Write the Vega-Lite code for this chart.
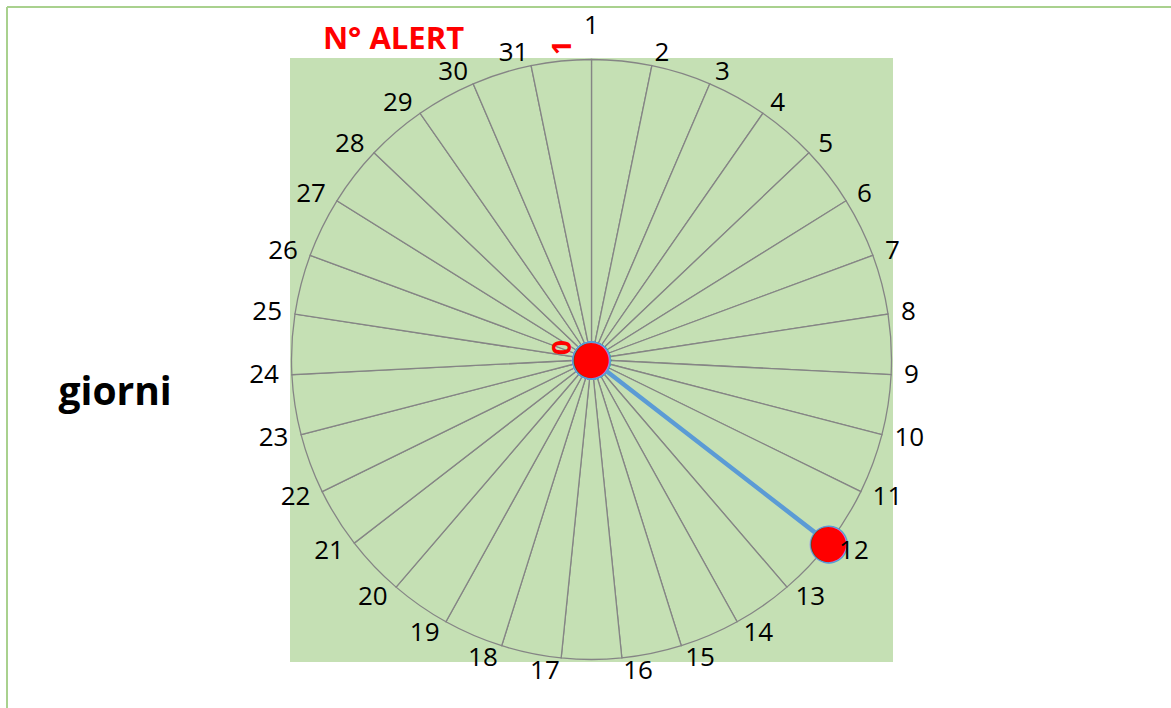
{
  "$schema": "https://vega.github.io/schema/vega-lite/v6.json",
  "width": 1164,
  "height": 701,
  "autosize": {"type": "none"},
  "padding": {"left": 7, "top": 7, "right": 0, "bottom": 0},
  "background": "white",
  "config": {"view": {"stroke": null}},
  "datasets": {
    "days": [
      {"day": 1, "alert": 0}, {"day": 2, "alert": 0}, {"day": 3, "alert": 0}, {"day": 4, "alert": 0},
      {"day": 5, "alert": 0}, {"day": 6, "alert": 0}, {"day": 7, "alert": 0}, {"day": 8, "alert": 0},
      {"day": 9, "alert": 0}, {"day": 10, "alert": 0}, {"day": 11, "alert": 0}, {"day": 12, "alert": 1},
      {"day": 13, "alert": 0}, {"day": 14, "alert": 0}, {"day": 15, "alert": 0}, {"day": 16, "alert": 0},
      {"day": 17, "alert": 0}, {"day": 18, "alert": 0}, {"day": 19, "alert": 0}, {"day": 20, "alert": 0},
      {"day": 21, "alert": 0}, {"day": 22, "alert": 0}, {"day": 23, "alert": 0}, {"day": 24, "alert": 0},
      {"day": 25, "alert": 0}, {"day": 26, "alert": 0}, {"day": 27, "alert": 0}, {"day": 28, "alert": 0},
      {"day": 29, "alert": 0}, {"day": 30, "alert": 0}, {"day": 31, "alert": 0}
    ],
    "one": [{"label": "x"}],
    "ticks": [{"t": "0", "v": 0}, {"t": "1", "v": 1}]
  },
  "data": {"name": "days"},
  "layer": [
    {
      "data": {"name": "one"},
      "mark": {"type": "rule", "color": "#A9D18E", "strokeWidth": 2},
      "encoding": {"x": {"datum": -1.94833, "type": "quantitative", "scale": {"domain": [-1.94833, 1.93167], "nice": false, "zero": false}, "axis": null}}
    },
    {
      "data": {"name": "one"},
      "mark": {"type": "rule", "color": "#A9D18E", "strokeWidth": 2},
      "encoding": {"y": {"datum": 1.175, "type": "quantitative", "scale": {"domain": [-1.16167, 1.175], "nice": false, "zero": false}, "axis": null}}
    },
    {
      "data": {"name": "one"},
      "mark": {"type": "rect", "fill": "#C5E0B4"},
      "encoding": {
        "x": {"datum": -1.005, "type": "quantitative", "scale": {"domain": [-1.94833, 1.93167], "nice": false, "zero": false}, "axis": null},
        "x2": {"datum": 1.005},
        "y": {"datum": 1.005, "type": "quantitative", "scale": {"domain": [-1.16167, 1.175], "nice": false, "zero": false}, "axis": null},
        "y2": {"datum": -1.0083}
      }
    },
    {
      "mark": {"type": "arc", "fill": "#C5E0B4", "stroke": "#858585", "strokeWidth": 1.3},
      "encoding": {
        "x": {"datum": 0, "type": "quantitative", "scale": {"domain": [-1.94833, 1.93167], "nice": false, "zero": false}, "axis": null},
        "y": {"datum": 0, "type": "quantitative", "scale": {"domain": [-1.16167, 1.175], "nice": false, "zero": false}, "axis": null},
        "theta": {"aggregate": "count", "type": "quantitative", "stack": true},
        "order": {"field": "day", "type": "quantitative", "sort": "ascending"},
        "detail": {"field": "day", "type": "quantitative"},
        "radius": {"datum": 1, "type": "quantitative", "scale": {"type": "linear", "domain": [0, 1], "range": [0, 300], "zero": true}}
      }
    },
    {
      "transform": [{"filter": "datum.alert > 0"}],
      "mark": {"type": "arc", "fillOpacity": 0, "stroke": "#5B9BD5", "strokeWidth": 4.5, "strokeCap": "round", "strokeJoin": "round"},
      "encoding": {
        "x": {"datum": 0, "type": "quantitative", "scale": {"domain": [-1.94833, 1.93167], "nice": false, "zero": false}, "axis": null},
        "y": {"datum": 0, "type": "quantitative", "scale": {"domain": [-1.16167, 1.175], "nice": false, "zero": false}, "axis": null},
        "theta": {"field": "day", "type": "quantitative", "stack": false, "scale": {"domain": [1, 32], "range": [0, 6.283185307]}},
        "theta2": {"field": "day"},
        "radius": {"field": "alert", "type": "quantitative", "scale": {"type": "linear", "domain": [0, 1], "range": [0, 300], "zero": true}}
      }
    },
    {
      "mark": {"type": "text", "text": "●", "font": "DejaVu Sans", "fontSize": 48, "color": "#FF0000", "stroke": "#5B9BD5", "strokeWidth": 1.5, "align": "center", "baseline": "middle"},
      "encoding": {
        "x": {"datum": 0, "type": "quantitative", "scale": {"domain": [-1.94833, 1.93167], "nice": false, "zero": false}, "axis": null},
        "y": {"datum": 0, "type": "quantitative", "scale": {"domain": [-1.16167, 1.175], "nice": false, "zero": false}, "axis": null},
        "theta": {"field": "day", "type": "quantitative", "stack": false, "scale": {"domain": [1, 32], "range": [0, 6.283185307]}},
        "radius": {"field": "alert", "type": "quantitative", "scale": {"type": "linear", "domain": [0, 1], "range": [0, 300], "zero": true}}
      }
    },
    {
      "transform": [{"filter": "datum.day == 1"}],
      "mark": {"type": "text", "font": "Open Sans", "fontSize": 26, "color": "#000000", "align": "center", "baseline": "middle", "radiusOffset": 33},
      "encoding": {
        "x": {"datum": 0, "type": "quantitative", "scale": {"domain": [-1.94833, 1.93167], "nice": false, "zero": false}, "axis": null},
        "y": {"datum": 0, "type": "quantitative", "scale": {"domain": [-1.16167, 1.175], "nice": false, "zero": false}, "axis": null},
        "theta": {"field": "day", "type": "quantitative", "stack": false, "scale": {"domain": [1, 32], "range": [0, 6.283185307]}},
        "radius": {"datum": 1, "type": "quantitative", "scale": {"type": "linear", "domain": [0, 1], "range": [0, 300], "zero": true}},
        "text": {"field": "day", "type": "nominal"}
      }
    },
    {
      "transform": [{"filter": "datum.day >= 2 && datum.day <= 16"}],
      "mark": {"type": "text", "font": "Open Sans", "fontSize": 26, "color": "#000000", "align": "left", "baseline": "middle", "radiusOffset": 13},
      "encoding": {
        "x": {"datum": 0, "type": "quantitative", "scale": {"domain": [-1.94833, 1.93167], "nice": false, "zero": false}, "axis": null},
        "y": {"datum": 0, "type": "quantitative", "scale": {"domain": [-1.16167, 1.175], "nice": false, "zero": false}, "axis": null},
        "theta": {"field": "day", "type": "quantitative", "stack": false, "scale": {"domain": [1, 32], "range": [0, 6.283185307]}},
        "radius": {"datum": 1, "type": "quantitative", "scale": {"type": "linear", "domain": [0, 1], "range": [0, 300], "zero": true}},
        "text": {"field": "day", "type": "nominal"}
      }
    },
    {
      "transform": [{"filter": "datum.day >= 17"}],
      "mark": {"type": "text", "font": "Open Sans", "fontSize": 26, "color": "#000000", "align": "right", "baseline": "middle", "radiusOffset": 13},
      "encoding": {
        "x": {"datum": 0, "type": "quantitative", "scale": {"domain": [-1.94833, 1.93167], "nice": false, "zero": false}, "axis": null},
        "y": {"datum": 0, "type": "quantitative", "scale": {"domain": [-1.16167, 1.175], "nice": false, "zero": false}, "axis": null},
        "theta": {"field": "day", "type": "quantitative", "stack": false, "scale": {"domain": [1, 32], "range": [0, 6.283185307]}},
        "radius": {"datum": 1, "type": "quantitative", "scale": {"type": "linear", "domain": [0, 1], "range": [0, 300], "zero": true}},
        "text": {"field": "day", "type": "nominal"}
      }
    },
    {
      "data": {"name": "ticks"},
      "mark": {"type": "text", "font": "Open Sans", "fontSize": 26, "fontWeight": "bold", "color": "#FF0000", "angle": 270, "dx": 12, "dy": -28.5, "align": "center", "baseline": "middle"},
      "encoding": {
        "x": {"datum": 0, "type": "quantitative", "scale": {"domain": [-1.94833, 1.93167], "nice": false, "zero": false}, "axis": null},
        "y": {"field": "v", "type": "quantitative", "scale": {"domain": [-1.16167, 1.175], "nice": false, "zero": false}, "axis": null},
        "text": {"field": "t", "type": "nominal"}
      }
    },
    {
      "data": {"name": "one"},
      "mark": {"type": "text", "text": "N° ALERT", "font": "Open Sans", "fontSize": 31, "fontWeight": "bold", "color": "#FF0000", "align": "center", "baseline": "middle"},
      "encoding": {
        "x": {"datum": -0.66, "type": "quantitative", "scale": {"domain": [-1.94833, 1.93167], "nice": false, "zero": false}, "axis": null},
        "y": {"datum": 1.065, "type": "quantitative", "scale": {"domain": [-1.16167, 1.175], "nice": false, "zero": false}, "axis": null}
      }
    },
    {
      "data": {"name": "one"},
      "mark": {"type": "text", "text": "giorni", "font": "Open Sans", "fontSize": 39, "fontWeight": "bold", "color": "#000000", "align": "center", "baseline": "alphabetic"},
      "encoding": {
        "x": {"datum": -1.588, "type": "quantitative", "scale": {"domain": [-1.94833, 1.93167], "nice": false, "zero": false}, "axis": null},
        "y": {"datum": -0.1517, "type": "quantitative", "scale": {"domain": [-1.16167, 1.175], "nice": false, "zero": false}, "axis": null}
      }
    }
  ],
  "resolve": {"scale": {"theta": "independent"}}
}
